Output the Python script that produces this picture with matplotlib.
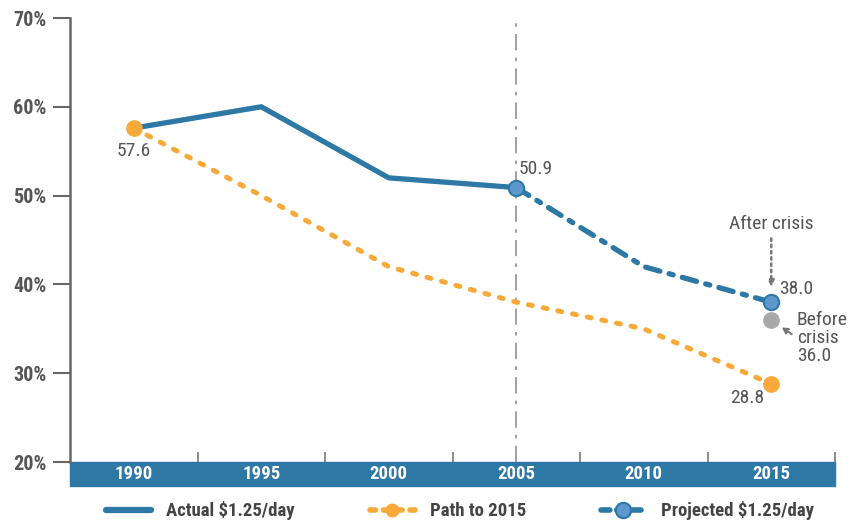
import numpy as np
import matplotlib.pyplot as plt
from matplotlib.lines import Line2D
from matplotlib.patches import Rectangle

plt.rcParams['font.family'] = ['Roboto Condensed', 'DejaVu Sans']

years = [1990, 1995, 2000, 2005, 2010, 2015]
actual_years = [1990, 1995, 2000, 2005]
actual = [57.6, 60.0, 52.0, 50.9]
path_2015 = [57.6, 50.0, 42.0, 38.0, 35.0, 28.8]
proj_years = [2005, 2010, 2015]
projected = [50.9, 42.0, 38.0]
before_crisis = 36.0

blue = '#2e78a6'
light_blue = '#5d97cc'
orange = '#f7aa3a'
grey_txt = '#555555'

fig = plt.figure(figsize=(8.68, 5.26), dpi=100)
ax = fig.add_axes([70/868, 1 - 462/526, 765/868, 444/526])
ax.set_xlim(1987.5, 2017.5)
ax.set_ylim(20, 70)

# vertical marker at 2005
ax.axvline(2005, color='#999999', lw=1.3, dashes=(9, 4, 2, 4), zorder=1, ymax=0.99)

# path to 2015
ax.plot(years, path_2015, color=orange, lw=3.6, dashes=(0.8, 2.2),
        dash_capstyle='round', zorder=2)
ax.plot([years[0], years[-1]], [path_2015[0], path_2015[-1]], 'o',
        color=orange, ms=11, zorder=4)

# actual
ax.plot(actual_years, actual, color=blue, lw=3.8, solid_capstyle='round', zorder=3)

# projected
ax.plot(proj_years, projected, color=blue, lw=3.8, dashes=(2.8, 1.8, 0.8, 1.8),
        dash_capstyle='round', zorder=3)
ax.plot([proj_years[0], proj_years[-1]], [projected[0], projected[-1]], 'o',
        color=light_blue, mec=blue, mew=1.5, ms=11, zorder=5)

# before crisis
ax.plot([2015], [before_crisis], 'o', color='#a8a8a8', ms=11, zorder=4)

lbl = dict(color=grey_txt, fontsize=14)
ax.annotate('57.6', (1990, 57.6), xytext=(0, -10), textcoords='offset points',
            ha='center', va='top', **lbl)
ax.annotate('50.9', (2005, 50.9), xytext=(2, 7), textcoords='offset points',
            ha='left', va='bottom', **lbl)
ax.annotate('38.0', (2015, 38.0), xytext=(6, 3), textcoords='offset points',
            ha='left', va='bottom', **lbl)
ax.annotate('28.8', (2015, 28.8), xytext=(-5, -4), textcoords='offset points',
            ha='right', va='top', **lbl)

ax.annotate('After crisis', xy=(2015, 38.0), xytext=(2015, 45.8),
            ha='center', va='bottom', **lbl,
            arrowprops=dict(arrowstyle='-|>', ls=(0, (1, 1.5)), color='#777777',
                            lw=1.8, shrinkA=2, shrinkB=11, mutation_scale=9))
ax.annotate('Before\ncrisis\n36.0', xy=(2015, before_crisis), xytext=(2016.0, 34.0),
            ha='left', va='center', linespacing=1.0, **lbl,
            arrowprops=dict(arrowstyle='-|>', ls=(0, (2, 1.5)), color='#777777',
                            lw=1.5, shrinkA=2, shrinkB=9, mutation_scale=9,
                            relpos=(0, 0.5)))

# axes styling
for s in ['top', 'right', 'bottom']:
    ax.spines[s].set_visible(False)
ax.spines['left'].set_color('#666666')
ax.spines['left'].set_linewidth(1.8)
ax.set_yticks([20, 30, 40, 50, 60, 70])
ax.set_yticklabels(['20%', '30%', '40%', '50%', '60%', '70%'],
                   fontsize=14.5, fontweight='bold', color=grey_txt)
ax.tick_params(axis='y', direction='out', length=12, width=1.5, color='#666666', pad=5)

# year band along the bottom
ax.add_patch(Rectangle((0, -24/444), 1, 24/444, transform=ax.transAxes,
                       color=blue, clip_on=False, zorder=1))
ax.set_xticks(years)
ax.set_xticklabels([str(y) for y in years], fontsize=13.5, fontweight='bold',
                   color='white')
ax.tick_params(axis='x', length=0, pad=2.2)
ax.set_xticks(np.arange(1992.5, 2018, 5), minor=True)
ax.tick_params(axis='x', which='minor', direction='in', length=7, width=1.2,
               color='#777777')

handles = [
    Line2D([], [], color=blue, lw=4.5, solid_capstyle='round'),
    Line2D([], [], color=orange, lw=4, dashes=(1.0, 1.4), dash_capstyle='round',
           marker='o', ms=9),
    Line2D([], [], color=blue, lw=4, dashes=(1.6, 1.2), dash_capstyle='round',
           marker='o', ms=11, mfc=light_blue, mec=blue, mew=1.5),
]
fig.legend(handles, ['Actual $1.25/day', 'Path to 2015', 'Projected $1.25/day'],
           loc='center', bbox_to_anchor=(0.53, 1 - 511/526), ncol=3, frameon=False,
           handlelength=2.4, columnspacing=4.0, handletextpad=0.8,
           prop=dict(size=13.5, weight='bold'), labelcolor='#444444')

fig.savefig('out.png', dpi=100)
